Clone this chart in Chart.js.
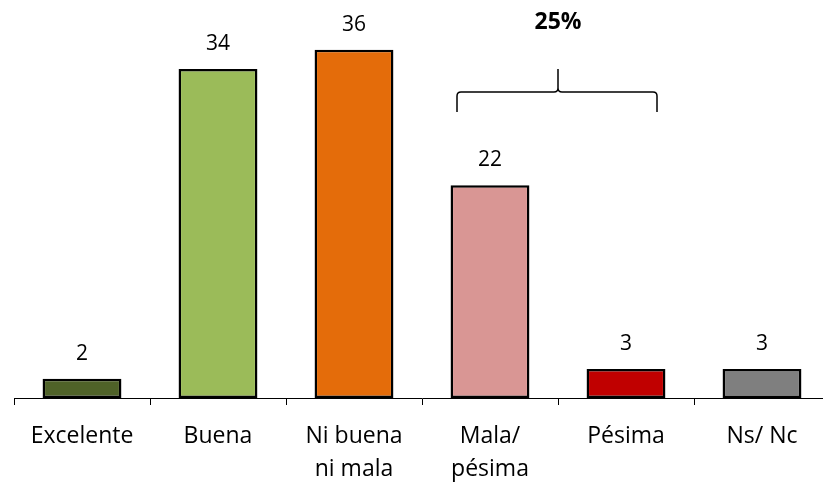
<!DOCTYPE html>
<html>
<head>
<meta charset="utf-8">
<script src="https://cdn.jsdelivr.net/npm/chart.js@4"></script>
<style>
  html, body { margin: 0; padding: 0; background: #fff; overflow: hidden; }
  #wrap { width: 840px; height: 483px; }
</style>
</head>
<body>
<div id="wrap"><canvas id="chartOpinion" width="840" height="483"></canvas></div>
<script>
  // Datos
  var categorias = ["Excelente", "Buena", ["Ni buena", "ni mala"], ["Mala/", "pésima"], "Pésima", "Ns/ Nc"];
  var valores = [2, 34, 36, 22, 3, 3];
  var colores = ["#4F6228", "#9BBB59", "#E46C0A", "#D99694", "#C00000", "#7F7F7F"];
  var llaveTexto = "25%";
  var llaveDesde = 3, llaveHasta = 4;

  var FUENTE = "'Open Sans', Lato, sans-serif";

  // Etiquetas de valor y llave
  var extras = {
    id: 'extras',
    afterDatasetsDraw: function (chart) {
      var ctx = chart.ctx;
      var meta = chart.getDatasetMeta(0);
      ctx.save();
      ctx.fillStyle = '#000';
      ctx.font = '21px ' + FUENTE;
      ctx.textAlign = 'center';
      ctx.textBaseline = 'middle';
      meta.data.forEach(function (bar, i) {
        ctx.fillText(String(valores[i]), bar.x, bar.y - 25);
      });

      // llave
      var xs = chart.scales.x;
      var cx = (xs.getPixelForValue(llaveDesde) + xs.getPixelForValue(llaveHasta)) / 2;
      var x1 = cx - 101, x2 = cx + 99;
      var yl = 92, yb = 112, yt = 69, r = 4;
      ctx.strokeStyle = '#000';
      ctx.lineWidth = 1.5;
      ctx.beginPath();
      ctx.moveTo(x1, yb);
      ctx.lineTo(x1, yl + r);
      ctx.quadraticCurveTo(x1, yl, x1 + r, yl);
      ctx.lineTo(cx - r, yl);
      ctx.quadraticCurveTo(cx, yl, cx, yl - r);
      ctx.lineTo(cx, yt);
      ctx.moveTo(cx, yl - r);
      ctx.quadraticCurveTo(cx, yl, cx + r, yl);
      ctx.lineTo(x2 - r, yl);
      ctx.quadraticCurveTo(x2, yl, x2, yl + r);
      ctx.lineTo(x2, yb);
      ctx.stroke();

      ctx.font = 'bold 23px ' + FUENTE;
      ctx.fillText(llaveTexto, cx, 22);
      ctx.restore();
    }
  };

  var ctx = document.getElementById('chartOpinion').getContext('2d');
  var chartOpinion = new Chart(ctx, {
    type: 'bar',
    data: {
      labels: categorias,
      datasets: [{
        data: valores,
        backgroundColor: colores,
        borderColor: '#000',
        borderWidth: 2.5,
        borderSkipped: false,
        barPercentage: 0.58,
        categoryPercentage: 1
      }]
    },
    options: {
      responsive: false,
      animation: false,
      layout: { padding: { left: 14, right: 10, top: 11, bottom: 0 } },
      plugins: { legend: { display: false }, tooltip: { enabled: false } },
      scales: {
        x: {
          offset: true,
          afterFit: function (s) { s.height = 85; },
          border: { display: true, color: '#000', width: 1 },
          grid: { offset: true, drawOnChartArea: false, tickLength: 7, color: '#000', lineWidth: 1 },
          ticks: {
            color: '#000',
            padding: 15,
            maxRotation: 0,
            autoSkip: false,
            font: { family: FUENTE, size: 23, lineHeight: 1.42 }
          }
        },
        y: {
          display: false,
          min: 0,
          max: 40
        }
      }
    },
    plugins: [extras]
  });
</script>
</body>
</html>
